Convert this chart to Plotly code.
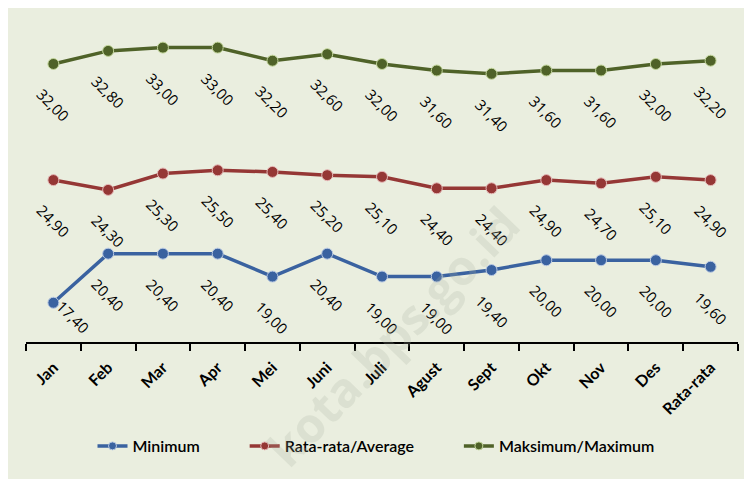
import plotly.graph_objects as go

months = ["Jan", "Feb", "Mar", "Apr", "Mei", "Juni", "Juli", "Agust", "Sept", "Okt", "Nov", "Des", "Rata-rata"]
minimum = [17.40, 20.40, 20.40, 20.40, 19.00, 20.40, 19.00, 19.00, 19.40, 20.00, 20.00, 20.00, 19.60]
average = [24.90, 24.30, 25.30, 25.50, 25.40, 25.20, 25.10, 24.40, 24.40, 24.90, 24.70, 25.10, 24.90]
maximum = [32.00, 32.80, 33.00, 33.00, 32.20, 32.60, 32.00, 31.60, 31.40, 31.60, 31.60, 32.00, 32.20]

series = [
    ("Minimum", minimum, "#3a62a0", "#b9c9e3"),
    ("Rata-rata/Average", average, "#953735", "#e6b9b8"),
    ("Maksimum/Maximum", maximum, "#4f6228", "#c3d69b"),
]

fig = go.Figure()
for name, vals, col, edge in series:
    fig.add_trace(go.Scatter(
        x=months, y=vals, name=name, mode="lines+markers", showlegend=False,
        line=dict(color=col, width=3.5),
        marker=dict(color=col, size=11, line=dict(color=edge, width=1)),
    ))

# legend-only entries (smaller legend symbols)
pad = "\u00a0" * 10
for k, (name, vals, col, edge) in enumerate(series):
    fig.add_trace(go.Scatter(
        x=[None], y=[None], mode="lines+markers",
        name=name + (pad if k < len(series) - 1 else ""),
        line=dict(color=col, width=3.5),
        marker=dict(color=col, size=8, line=dict(color=edge, width=1)),
    ))

def fmt(v):
    return f"{v:.2f}".replace(".", ",")

annotations = []
for name, vals, col, edge in series:
    for i, (m, v) in enumerate(zip(months, vals)):
        xs, ys = 0, -41
        if name == "Minimum" and i == 0:
            xs, ys = 20, -14
        annotations.append(dict(
            x=m, y=v, xref="x", yref="y", text=fmt(v), showarrow=False,
            textangle=45, xanchor="center", yanchor="middle",
            xshift=xs, yshift=ys,
            font=dict(family="Open Sans", size=15, color="#000000"),
        ))

# watermark
annotations.append(dict(
    x=(392 - 26) / 712, y=(342 - 336) / 332, xref="paper", yref="paper",
    text="kota.bps.go.id", showarrow=False, textangle=-46,
    xanchor="center", yanchor="middle",
    font=dict(family="Open Sans", size=48, color="rgba(170,178,160,0.22)", weight="bold"),
))

fig.update_layout(
    width=744, height=471,
    margin=dict(l=18, r=14, t=2, b=137, autoexpand=False),
    paper_bgcolor="#eaeedf",
    plot_bgcolor="rgba(0,0,0,0)",
    showlegend=True,
    legend=dict(
        orientation="h", x=(376 - 26) / 712, xanchor="center",
        y=(342 - 446) / 332, yanchor="middle",
        font=dict(family="Lato", size=16, color="#000000", weight=600),
        bgcolor="rgba(0,0,0,0)",
    ),
    annotations=annotations,
    xaxis=dict(
        type="category", tickson="boundaries", ticks="outside", ticklen=7,
        tickwidth=1.5, tickcolor="#000000",
        showline=True, linecolor="#000000", linewidth=2,
        showgrid=False, zeroline=False, tickangle=-45,
        ticklabelstandoff=8,
        tickfont=dict(family="Lato", size=16, color="#000000", weight="bold"),
        range=[-0.5, 12.5], automargin=False,
    ),
    yaxis=dict(
        range=[15, 35.3], showgrid=False, zeroline=False,
        showticklabels=False, showline=False, ticks="", automargin=False,
    ),
)

fig.write_html("out.html")
